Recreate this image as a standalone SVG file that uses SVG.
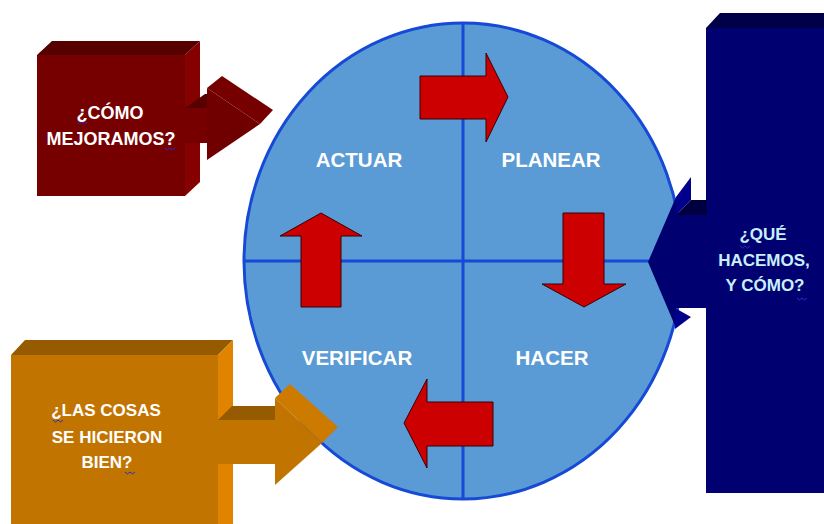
<svg xmlns="http://www.w3.org/2000/svg" width="824" height="524" viewBox="0 0 824 524">
<style>
.lbl{font-family:"Liberation Sans",Arial,sans-serif;font-weight:bold;fill:#ffffff;text-anchor:middle}
.q{font-family:"Liberation Sans",Arial,sans-serif;font-weight:bold;text-anchor:middle}
.red{fill:#cc0000;stroke:#3a0000;stroke-width:1}
.sq{fill:none;stroke:#2a2ad0;stroke-width:1}
</style>
<rect width="824" height="524" fill="#ffffff"/>
<g id="cycle">
<ellipse cx="463" cy="261" rx="219" ry="238" fill="#5b9bd5" stroke="#1549d6" stroke-width="3"/>
<line x1="463" y1="23" x2="463" y2="499" stroke="#1549d6" stroke-width="3"/>
<line x1="244" y1="261" x2="682" y2="261" stroke="#1549d6" stroke-width="3"/>
<text class="lbl" x="359" y="167" font-size="20.5">ACTUAR</text>
<text class="lbl" x="551" y="167" font-size="20.5">PLANEAR</text>
<text class="lbl" x="357" y="365" font-size="20.5">VERIFICAR</text>
<text class="lbl" x="552" y="365" font-size="20.5">HACER</text>
</g>
<g id="connectors">
<polygon class="red" points="420,76 486,76 486,53 508,97 486,142 486,119 420,119"/>
<polygon class="red" points="563,213 604,213 604,284 626,284 584,307 542,284 563,284"/>
<polygon class="red" points="493,402 427,402 427,379 404,423 427,468 427,446 493,446"/>
<polygon class="red" points="301,307 301,236 280,236 321,213 362,236 341,236 341,307"/>
</g>
<g id="mejoramos">
<polygon points="37,55 52,41 200,41 185,55" fill="#560000"/>
<polygon points="185,55 200,41 200,182 185,196" fill="#850000"/>
<rect x="37" y="55" width="148" height="141" fill="#760000"/>
<rect x="185" y="108" width="22" height="35" fill="#760000"/>
<polygon points="185,108 205,94 207,94 207,108" fill="#560000"/>
<polygon points="207,88 222,76 273,110 260,124" fill="#760000"/>
<polygon points="207,88 260,124 207,160" fill="#700000"/>
<text class="q" x="110" y="119" font-size="18" fill="#ffffff">¿CÓMO</text>
<text class="q" x="111" y="145" font-size="18" fill="#ffffff">MEJORAMOS?</text>
<path class="sq" d="M77,122 l2.5,2 2.5,-2 2.5,2 2.5,-2"/>
<path class="sq" d="M165,148 l2.5,2 2.5,-2 2.5,2 2.5,-2"/>
</g>
<g id="hacemos">
<polygon points="706,28 720,13 824,13 824,28" fill="#000048"/>
<rect x="706" y="28" width="118" height="465" fill="#000070"/>
<polygon points="676,197 648,262 676,328" fill="#000070"/>
<rect x="675" y="214" width="32" height="94" fill="#000070"/>
<polygon points="676,197 691,177 691,200 676,215" fill="#00008c"/>
<polygon points="676,215 691,200 707,200 707,215" fill="#000040"/>
<polygon points="675,308 691,317 675,329" fill="#00008c"/>
<text class="q" x="763" y="240" font-size="17" fill="#c8f0fc">¿QUÉ</text>
<text class="q" x="764" y="266" font-size="17" fill="#c8f0fc">HACEMOS,</text>
<text class="q" x="765" y="291" font-size="17" fill="#c8f0fc">Y CÓMO?</text>
<path class="sq" d="M740,246 l2.5,2 2.5,-2 2.5,2 2.5,-2"/>
<path class="sq" d="M797,298 l2.5,2 2.5,-2 2.5,2 2.5,-2"/>
</g>
<g id="hicieron">
<polygon points="11,355 25,340 233,340 218,355" fill="#965a00"/>
<polygon points="218,355 233,340 233,524 218,524" fill="#e08400"/>
<rect x="11" y="355" width="207" height="169" fill="#c27400"/>
<rect x="217" y="420" width="59" height="44" fill="#c27400"/>
<polygon points="218,420 232,406 276,406 276,420" fill="#965a00"/>
<polygon points="275,398 290,384 338,427 322,443" fill="#cc7a00"/>
<polygon points="275,398 322,443 275,485" fill="#c27400"/>
<text class="q" x="106" y="416" font-size="17" fill="#ffffff">¿LAS COSAS</text>
<text class="q" x="107" y="443" font-size="17" fill="#ffffff">SE HICIERON</text>
<text class="q" x="107" y="468" font-size="17" fill="#ffffff">BIEN?</text>
<path class="sq" d="M53,420 l2.5,2 2.5,-2 2.5,2 2.5,-2"/>
<path class="sq" d="M125,472 l2.5,2 2.5,-2 2.5,2 2.5,-2"/>
</g>
</svg>
